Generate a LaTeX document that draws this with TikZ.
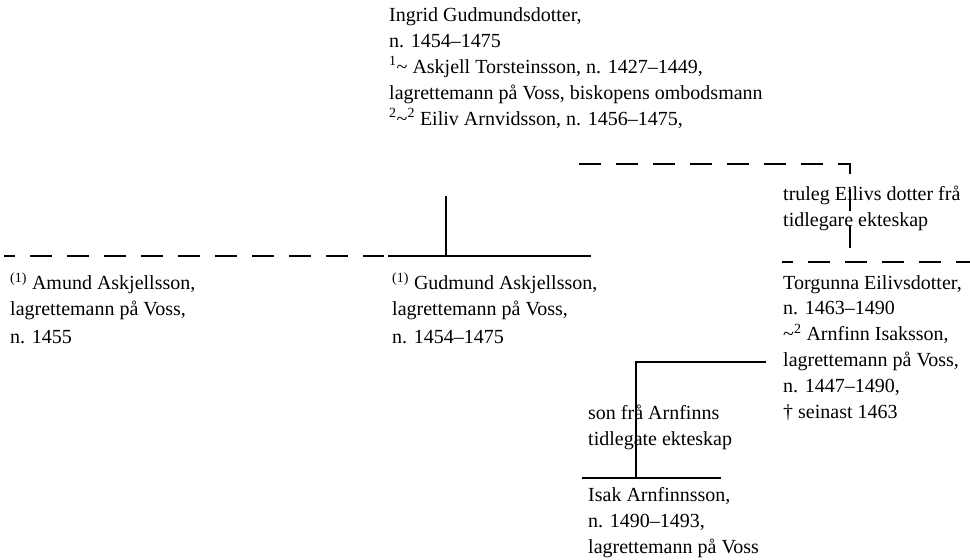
\documentclass[tikz,border=0pt]{standalone}
\usepackage{fontspec}
\setmainfont{Liberation Serif}
\begin{document}
\begin{tikzpicture}[x=1pt,y=-1pt,
  txt/.style={anchor=base west, inner sep=0pt, align=left, font=\fontsize{20}{25.8}\selectfont},
  bar/.style={line width=1.7pt, line cap=butt},
  dbar/.style={line width=1.7pt, dash pattern=on 22pt off 15pt, dash phase=11pt}]
\useasboundingbox (0,0) rectangle (970,560);

% text blocks (anchor = baseline of the last line)
\node[txt] (ingrid) at (389,125) {Ingrid Gudmundsdotter,\\ n. 1454–1475\\ \textsuperscript{1}\textasciitilde{} Askjell Torsteinsson, n. 1427–1449,\\ lagrettemann på Voss, biskopens ombodsmann\\ \textsuperscript{2}\textasciitilde\textsuperscript{2} Eiliv Arnvidsson, n. 1456–1475,};
\node[txt] (truleg) at (783,226) {truleg Eilivs dotter frå\\ tidlegare ekteskap};
\node[txt] (amund) at (10,343) {\textsuperscript{(1)} Amund Askjellsson,\\ lagrettemann på Voss,\\[1.5pt] n. 1455};
\node[txt] (gudmund) at (392,343) {\textsuperscript{(1)} Gudmund Askjellsson,\\ lagrettemann på Voss,\\[1.5pt] n. 1454–1475};
\node[txt] (torgunna) at (783,418) {Torgunna Eilivsdotter,\\ n. 1463–1490\\ \textasciitilde\textsuperscript{2} Arnfinn Isaksson,\\ lagrettemann på Voss,\\ n. 1447–1490,\\ \textdagger{} seinast 1463};
\node[txt] (son) at (588,445) {son frå Arnfinns\\ tidlegate ekteskap};
\node[txt] (isak) at (588,553) {Isak Arnfinnsson,\\ n. 1490–1493,\\ lagrettemann på Voss};

% line points
\coordinate (d1a) at (579,164);
\coordinate (d1b) at (850,164);
\coordinate (d1c) at (850,262);
\coordinate (d2a) at (782,262);
\coordinate (d2b) at (970,262);
\coordinate (d3a) at (4,256);
\coordinate (d3b) at (384,256);
\coordinate (s1a) at (388,256);
\coordinate (s1b) at (591,256);
\coordinate (v1a) at (445.7,196);
\coordinate (v1b) at (445.7,256);
\coordinate (s2a) at (766,362);
\coordinate (s2b) at (636,362);
\coordinate (s2c) at (636,478);
\coordinate (s3a) at (582,478);
\coordinate (s3b) at (721,478);

% connectors
\draw[dbar, dash phase=0pt] (d1a) -- (d1b) -- (d1c);
\draw[dbar] (d2a) -- (d2b);
\draw[dbar] (d3a) -- (d3b);
\draw[bar] (s1a) -- (s1b);
\draw[bar] (v1a) -- (v1b);
\draw[bar] (s2a) -- (s2b) -- (s2c);
\draw[bar] (s3a) -- (s3b);
\end{tikzpicture}
\end{document}
